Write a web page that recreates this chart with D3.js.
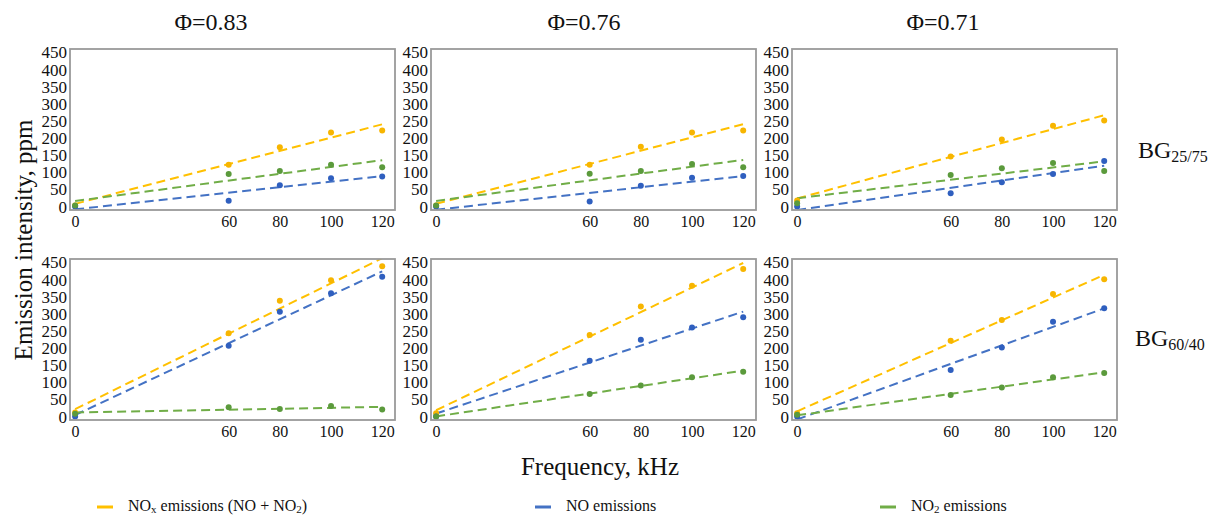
<!DOCTYPE html>
<html>
<head>
<meta charset="utf-8">
<script src="https://cdn.jsdelivr.net/npm/d3@7"></script>
<style>
  html, body { margin: 0; padding: 0; background: #fff; }
  svg { display: block; }
  svg text, svg tspan { font-family: "Liberation Serif", "Times New Roman", Times, serif; fill: #111; }
</style>
</head>
<body>
<svg id="chart" width="1213" height="515"></svg>
<script>
// Frequencies (kHz) at which emissions were measured
const frequencies = [0, 60, 80, 100, 120];
const xTickValues = [0, 60, 80, 100, 120];
const yTickValues = [0, 50, 100, 150, 200, 250, 300, 350, 400, 450];

// Column headers (equivalence ratio) and row headers (biogas blend)
const phiLabels = ["Φ=0.83", "Φ=0.76", "Φ=0.71"];
const blendMain = ["BG", "BG"];
const blendSub = ["25/75", "60/40"];

// Emission intensities, ppm — one inner array per Φ column
const noxBG2575 = [
  [3, 122, 173, 216, 222],
  [3, 122, 175, 216, 222],
  [18, 146, 196, 236, 251]
];
const noBG2575 = [
  [0, 17, 62, 83, 88],
  [0, 15, 61, 84, 89],
  [0, 39, 71, 95, 133]
];
const no2BG2575 = [
  [3, 95, 104, 122, 115],
  [3, 96, 104, 124, 115],
  [10, 92, 112, 127, 104]
];
const noxBG6040 = [
  [12, 243, 338, 398, 439],
  [10, 238, 321, 382, 431],
  [10, 221, 282, 358, 401]
];
const noBG6040 = [
  [0, 207, 306, 360, 408],
  [0, 163, 224, 260, 290],
  [0, 136, 202, 277, 316]
];
const no2BG6040 = [
  [8, 27, 22, 31, 21],
  [0, 66, 91, 115, 131],
  [5, 63, 85, 115, 127]
];

const seriesNames = ["NOx", "NO", "NO2"];
const lineColors = { NOx: "#ffc000", NO: "#4472c4", NO2: "#70ad47" };
const dotColors = { NOx: "#f7b500", NO: "#2f5fbf", NO2: "#5b9a3c" };

const rows = [
  { NOx: noxBG2575, NO: noBG2575, NO2: no2BG2575 },
  { NOx: noxBG6040, NO: noBG6040, NO2: no2BG6040 }
];

// Panel grid geometry
const colLeft = [70, 431, 792];
const rowTop = [49, 259];
const panelW = 325;
const panelH = 161;
const serif = "Liberation Serif, Times New Roman, Times, serif";

const svg = d3.select("#chart").attr("font-family", serif);

// Ordinary least-squares fit for the linear trend lines
function linearFit(xs, ys) {
  const n = xs.length;
  const mx = d3.mean(xs), my = d3.mean(ys);
  let sxy = 0, sxx = 0;
  for (let i = 0; i < n; i++) {
    sxy += (xs[i] - mx) * (ys[i] - my);
    sxx += (xs[i] - mx) * (xs[i] - mx);
  }
  const slope = sxy / sxx;
  return { slope, intercept: my - slope * mx };
}

// Put a text's content inside a tspan so every label is set the same way
function wrapInTspan(sel) {
  sel.each(function () {
    const t = d3.select(this);
    const s = t.text();
    t.text(null);
    t.append("tspan").attr("font-family", serif).text(s);
  });
}

const defs = svg.append("defs");

rows.forEach((row, r) => {
  colLeft.forEach((left, c) => {
    const top = rowTop[r];
    const x = d3.scaleLinear().domain([-2, 125]).range([0, panelW]);
    const y = d3.scaleLinear().domain([-10, 460]).range([panelH, 0]);

    const g = svg.append("g").attr("transform", `translate(${left},${top})`);
    const clipId = `clip-${r}-${c}`;
    defs.append("clipPath").attr("id", clipId)
      .append("rect").attr("width", panelW).attr("height", panelH);

    // y axis labels
    const yAxis = g.append("g")
      .call(d3.axisLeft(y).tickValues(yTickValues).tickSize(0).tickPadding(3))
      .attr("font-family", serif).attr("font-size", 17);
    yAxis.select(".domain").remove();
    yAxis.selectAll("text").attr("fill", "#111").call(wrapInTspan);

    // x axis labels
    const xAxis = g.append("g").attr("transform", `translate(0,${panelH})`)
      .call(d3.axisBottom(x).tickValues(xTickValues).tickSize(0).tickPadding(6))
      .attr("font-family", serif).attr("font-size", 16);
    xAxis.select(".domain").remove();
    xAxis.selectAll("text").attr("fill", "#111").call(wrapInTspan);

    const plot = g.append("g").attr("clip-path", `url(#${clipId})`);

    // dashed linear trend lines
    seriesNames.forEach(name => {
      const vals = row[name][c];
      const fit = linearFit(frequencies, vals);
      const x0 = d3.min(frequencies), x1 = d3.max(frequencies);
      plot.append("line")
        .attr("x1", x(x0)).attr("y1", y(fit.intercept + fit.slope * x0))
        .attr("x2", x(x1)).attr("y2", y(fit.intercept + fit.slope * x1))
        .attr("stroke", lineColors[name])
        .attr("stroke-width", 2)
        .attr("stroke-dasharray", "9,5");
    });

    // measured points
    seriesNames.forEach(name => {
      const vals = row[name][c];
      plot.selectAll(null)
        .data(frequencies.map((f, i) => [f, vals[i]]))
        .join("circle")
        .attr("cx", d => x(d[0]))
        .attr("cy", d => y(d[1]))
        .attr("r", 3)
        .attr("fill", dotColors[name]);
    });

    // panel frame
    g.append("rect")
      .attr("width", panelW).attr("height", panelH)
      .attr("fill", "none").attr("stroke", "#9a9a9a").attr("stroke-width", 1.8);
  });
});

// Column titles
const titleX = [211, 584, 943];
phiLabels.forEach((t, i) => {
  svg.append("text").attr("x", titleX[i]).attr("y", 30)
    .attr("text-anchor", "middle").attr("font-size", 24)
    .append("tspan").text(t);
});

// Row labels with subscripts
const rowLabelY = [158, 346];
const rowLabelX = [1138, 1135];
blendMain.forEach((m, i) => {
  const t = svg.append("text").attr("x", rowLabelX[i]).attr("y", rowLabelY[i])
    .attr("font-size", 24);
  t.append("tspan").text(m);
  t.append("tspan").attr("dy", 4).attr("font-size", 16).text(blendSub[i]);
});

// Axis titles
svg.append("text")
  .attr("transform", "translate(32,240) rotate(-90)")
  .attr("text-anchor", "middle").attr("font-size", 25)
  .append("tspan").text("Emission intensity, ppm");

svg.append("text")
  .attr("x", 600).attr("y", 475)
  .attr("text-anchor", "middle").attr("font-size", 25)
  .append("tspan").text("Frequency, kHz");

// Legend
const legendItems = [
  { key: "NOx", x: 97, parts: [["NO", 0], ["x", 1], [" emissions (NO + NO", 0], ["2", 1], [")", 0]] },
  { key: "NO", x: 535, parts: [["NO emissions", 0]] },
  { key: "NO2", x: 880, parts: [["NO", 0], ["2", 1], [" emissions", 0]] }
];
legendItems.forEach(item => {
  svg.append("line")
    .attr("x1", item.x).attr("x2", item.x + 16)
    .attr("y1", 507).attr("y2", 507)
    .attr("stroke", lineColors[item.key]).attr("stroke-width", 3);
  const t = svg.append("text").attr("x", item.x + 31).attr("y", 511)
    .attr("font-size", 16);
  let sub = false;
  item.parts.forEach(([s, isSub]) => {
    const ts = t.append("tspan").text(s);
    if (isSub && !sub) { ts.attr("dy", 2).attr("font-size", 11); sub = true; }
    else if (!isSub && sub) { ts.attr("dy", -2); sub = false; }
  });
});
</script>
</body>
</html>
